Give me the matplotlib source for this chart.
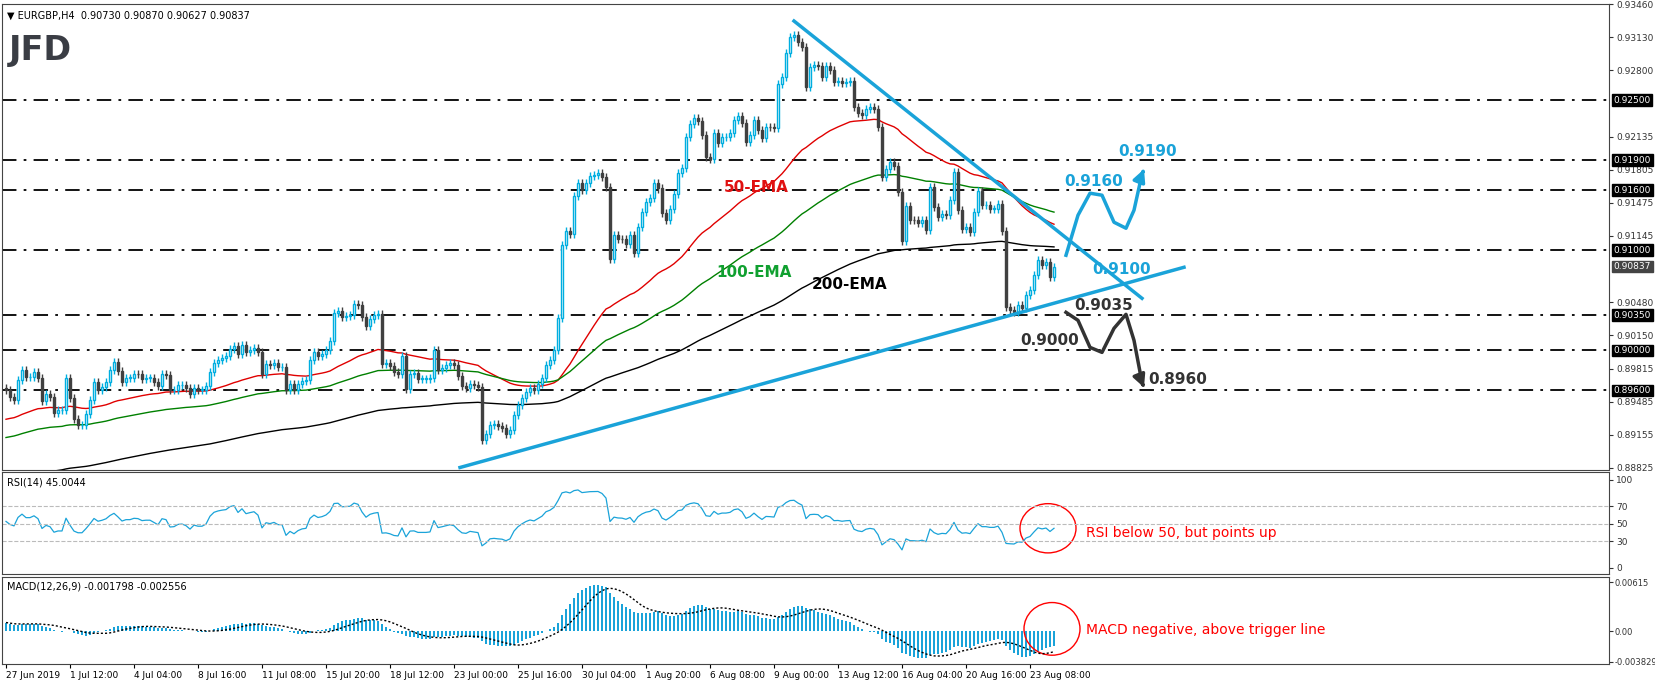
import numpy as np
import pandas as pd
import matplotlib
matplotlib.use('Agg')
import matplotlib.pyplot as plt
from matplotlib.patches import Rectangle, Ellipse
import matplotlib.transforms as mtrans

# closes per H4 bar (open = previous close)
closes = [
    0.8960, 0.89533, 0.8950, 0.89707, 0.89807, 0.89733, 0.89733, 0.89783, 0.89727, 0.89493,
    0.89567, 0.89533, 0.89373, 0.8940, 0.8940, 0.89727, 0.89527, 0.89317, 0.8925, 0.8925,
    0.8936, 0.8950, 0.89683, 0.8960, 0.89633, 0.89683, 0.8980, 0.89883, 0.89793, 0.89683,
    0.89727, 0.89727, 0.89767, 0.8976, 0.89717, 0.89727, 0.89727, 0.89683, 0.8964, 0.89767,
    0.8975, 0.8960, 0.89607, 0.8965, 0.89657, 0.89627, 0.8956, 0.89627, 0.89607, 0.89607,
    0.8964, 0.89783, 0.89873, 0.89907, 0.89927, 0.8994, 0.90017, 0.90043, 0.8996, 0.9005,
    0.89983, 0.90007, 0.90027, 0.89983, 0.89767, 0.89867, 0.8985, 0.89873, 0.89833, 0.89833,
    0.8960, 0.89667, 0.89607, 0.8966, 0.8969, 0.8970, 0.8990, 0.89983, 0.8994, 0.8996,
    0.9000, 0.90093, 0.90377, 0.9039, 0.90333, 0.90343, 0.9035, 0.90467, 0.9045, 0.90333,
    0.9024, 0.90317, 0.9035, 0.90367, 0.89867, 0.89873, 0.8984, 0.89783, 0.89767, 0.8994,
    0.89617, 0.89767, 0.89773, 0.89717, 0.89717, 0.89717, 0.89727, 0.90007, 0.8980, 0.89823,
    0.8985, 0.89877, 0.8985, 0.8974, 0.89643, 0.89627, 0.89667, 0.8965, 0.89633, 0.8910,
    0.8916, 0.8925, 0.8926, 0.8924, 0.89227, 0.89167, 0.8920, 0.8935, 0.8945, 0.8952,
    0.8958, 0.8962, 0.8960, 0.8966, 0.8972, 0.8985, 0.8990, 0.9000, 0.9032, 0.9105,
    0.91193, 0.91167, 0.9154, 0.91667, 0.9160, 0.91667, 0.9174, 0.91747, 0.91767, 0.91727,
    0.91633, 0.90917, 0.9115, 0.91117, 0.9111, 0.91067, 0.9115, 0.90973, 0.91233, 0.91383,
    0.91483, 0.91527, 0.91667, 0.91617, 0.91373, 0.9130, 0.91417, 0.9156, 0.91773, 0.91817,
    0.92127, 0.92257, 0.92317, 0.92293, 0.9215, 0.91927, 0.91907, 0.92167, 0.92073, 0.92133,
    0.92133, 0.92167, 0.9230, 0.9234, 0.92267, 0.92083, 0.9215, 0.9230, 0.9220, 0.92117,
    0.92233, 0.92227, 0.92217, 0.9266, 0.92733, 0.92967, 0.93127, 0.9315, 0.93083, 0.93033,
    0.92633, 0.92833, 0.9285, 0.9284, 0.92727, 0.9284, 0.9280, 0.92683, 0.9269, 0.92667,
    0.92683, 0.9269, 0.92433, 0.92373, 0.9235, 0.92407, 0.92427, 0.92407, 0.92233, 0.91733,
    0.91807, 0.91883, 0.9184, 0.91583, 0.91093, 0.9144, 0.91307, 0.913, 0.91273, 0.913,
    0.91207, 0.91633, 0.91433, 0.91333, 0.91367, 0.9135, 0.9150, 0.91783, 0.9140, 0.91217,
    0.91233, 0.91183, 0.91383, 0.91593, 0.9145, 0.9145, 0.91417, 0.91417, 0.9146, 0.91193,
    0.90433, 0.9040, 0.9038, 0.9045, 0.9042, 0.9055, 0.9060, 0.9075, 0.9090, 0.9085,
    0.9088, 0.9073, 0.90837,
]
first_open = 0.8962
wick = 0.0004

# indicator state just before the first visible bar
ema_seeds = {50: 0.8930, 100: 0.8912, 200: 0.8868}
ema_colors = {50: '#e00000', 100: '#008000', 200: '#000000'}
rsi_seed_gain, rsi_seed_loss = 0.00042, 0.00036
macd_seed_fast, macd_seed_slow = 0.8962, 0.8950

levels = [0.9250, 0.9190, 0.9160, 0.9100, 0.9035, 0.9000, 0.8960]
right_ticks = [0.93460, 0.93130, 0.92800, 0.92135, 0.91805, 0.91475, 0.91145,
               0.90480, 0.90150, 0.89815, 0.89485, 0.89155, 0.88825]
date_labels = ['27 Jun 2019', '1 Jul 12:00', '4 Jul 04:00', '8 Jul 16:00', '11 Jul 08:00',
               '15 Jul 20:00', '18 Jul 12:00', '23 Jul 00:00', '25 Jul 16:00', '30 Jul 04:00',
               '1 Aug 20:00', '6 Aug 08:00', '9 Aug 00:00', '13 Aug 12:00', '16 Aug 04:00',
               '20 Aug 16:00', '23 Aug 08:00']

# trendlines and scenario paths (bar index, price)
down_line = ([197, 284], [0.9329, 0.9052])
up_line = ([113.5, 294.5], [0.8883, 0.9083])
bull_path = ([265, 268, 271, 274, 277, 280, 282, 284], [0.9095, 0.9135, 0.9157, 0.9155, 0.9128, 0.9122, 0.9140, 0.9176])
bear_path = ([265, 268, 271, 274, 277, 280, 282, 284], [0.9038, 0.9030, 0.9003, 0.8998, 0.9022, 0.9036, 0.9010, 0.8968])

# annotation labels: (bar index, price, text, colour)
price_notes = [(272, 0.9169, '0.9160', '#1aa3d9'), (285.5, 0.9199, '0.9190', '#1aa3d9'),
               (279, 0.9081, '0.9100', '#1aa3d9'), (274.5, 0.9045, '0.9035', '#333333'),
               (261, 0.9010, '0.9000', '#333333'), (293, 0.8971, '0.8960', '#333333')]
ema_notes = [(187.5, 0.9163, '50-EMA', '#e01010'), (187, 0.9078, '100-EMA', '#10a030'),
             (211, 0.9066, '200-EMA', 'black')]

c = np.array(closes)
o = np.concatenate([[first_open], c[:-1]])
n = len(c)
x = np.arange(n)


def ema(vals, span, seed, alpha=None):
    a = alpha if alpha else 2 / (span + 1)
    out = []
    e = seed
    for v in vals:
        e = e + a * (v - e)
        out.append(e)
    return np.array(out)


# RSI(14), Wilder smoothing
d = np.diff(np.concatenate([[first_open], c]))
up = ema(np.clip(d, 0, None), 14, rsi_seed_gain, alpha=1 / 14)
dn = ema(np.clip(-d, 0, None), 14, rsi_seed_loss, alpha=1 / 14)
rsi = 100 - 100 / (1 + up / dn)

macd = ema(c, 12, macd_seed_fast) - ema(c, 26, macd_seed_slow)
signal = pd.Series(macd).rolling(9, min_periods=1).mean().values

W, H = 1655, 682
fig = plt.figure(figsize=(W / 100, H / 100), dpi=100)
plt.rcParams['font.family'] = 'DejaVu Sans'


def axbox(top, bot):
    return [2 / W, 1 - bot / H, 1607 / W, (bot - top) / H]


ax = fig.add_axes(axbox(4, 470))
ax_r = fig.add_axes(axbox(472, 574), sharex=ax)
ax_m = fig.add_axes(axbox(577, 664), sharex=ax)

up_col = '#00aee0'
dn_col = '#404040'
for i in range(n):
    hi = max(o[i], c[i]) + wick
    lo = min(o[i], c[i]) - wick
    col = up_col if c[i] >= o[i] else dn_col
    ax.vlines(i, lo, hi, color=col, lw=1, zorder=3)
    b = min(o[i], c[i])
    h = max(abs(c[i] - o[i]), 0.00003)
    ax.add_patch(Rectangle((i - 0.32, b), 0.64, h, facecolor='white' if c[i] >= o[i] else dn_col,
                           edgecolor=col, lw=1, zorder=4))

for span, seed in ema_seeds.items():
    ax.plot(x, ema(c, span, seed), color=ema_colors[span], lw=1, zorder=2)

for lv in levels:
    ax.axhline(lv, color='black', lw=1.3, ls=(0, (8, 4, 1.5, 4)), zorder=1)

ax.plot(*down_line, color='#1aa3d9', lw=2.5, zorder=5)
ax.plot(*up_line, color='#1aa3d9', lw=2.5, zorder=5)
ax.plot(*bull_path, color='#1aa3d9', lw=2.5, zorder=5)
ax.annotate('', xy=(bull_path[0][-1] + 0.5, bull_path[1][-1] + 0.0005), xytext=(bull_path[0][-1], bull_path[1][-1]),
            arrowprops=dict(arrowstyle='-|>', color='#1aa3d9', lw=2.5, mutation_scale=18))
ax.plot(*bear_path, color='#333333', lw=2.5, zorder=5)
ax.annotate('', xy=(bear_path[0][-1] + 0.5, bear_path[1][-1] - 0.0005), xytext=(bear_path[0][-1], bear_path[1][-1]),
            arrowprops=dict(arrowstyle='-|>', color='#333333', lw=2.5, mutation_scale=18))

for bx, py, txt, col in price_notes + ema_notes:
    ax.text(bx, py, txt, color=col, fontsize=11, fontweight='bold', ha='center', va='center', zorder=6)

ax.set_ylim(0.88805, 0.9346)
ax.set_xlim(-1, 400.75)

# right price axis with level boxes
for a in (ax, ax_r, ax_m):
    a.yaxis.tick_right()
    a.tick_params(axis='y', labelsize=6.5, length=3, colors='#333333', pad=2)
    a.tick_params(axis='x', which='both', bottom=False, labelbottom=False)
    for s in a.spines.values():
        s.set_color('#444444')
ax.set_yticks(right_ticks)
ax.set_yticklabels([f'{t:.5f}' for t in right_ticks])
tr = mtrans.blended_transform_factory(ax.transAxes, ax.transData)
for lv in levels:
    ax.text(1.003, lv, f'{lv:.5f}', transform=tr, fontsize=6.5, color='white', va='center',
            bbox=dict(boxstyle='square,pad=0.15', fc='black', ec='black'))
ax.text(1.003, c[-1], f'{c[-1]:.5f}', transform=tr, fontsize=6.5, color='white', va='center',
        bbox=dict(boxstyle='square,pad=0.15', fc='#444444', ec='#444444'))

ax.text(0.003, 0.985, '\u25bc EURGBP,H4  0.90730 0.90870 0.90627 0.90837', transform=ax.transAxes,
        fontsize=7, va='top')
ax.text(0.004, 0.90, 'JFD', transform=ax.transAxes, fontsize=24, fontweight='bold', color='#3a3d44',
        va='center')

# RSI panel
ax_r.plot(x, rsi, color='#1aa3d9', lw=0.9)
for lv in (30, 50, 70):
    ax_r.axhline(lv, color='#bbbbbb', lw=0.8, ls='--')
ax_r.set_ylim(-7, 109)
ax_r.set_yticks([0, 30, 50, 70, 100])
ax_r.text(0.003, 0.95, f'RSI(14) {rsi[-1]:.4f}', transform=ax_r.transAxes, fontsize=7, va='top')
ax_r.add_patch(Ellipse((260.5, 45), 14, 56, fill=False, color='red', lw=1))
ax_r.text(270, 40, 'RSI below 50, but points up', color='red', fontsize=10, va='center')

# MACD panel
ax_m.bar(x, macd, width=0.35, color='#1aa3d9')
ax_m.plot(x, signal, color='black', lw=1, ls=(0, (1.5, 1.5)))
ax_m.set_ylim(-0.0041, 0.0068)
ax_m.set_yticks([0.00615, 0.0, -0.003829])
ax_m.set_yticklabels(['0.00615', '0.00', '-0.003829'])
ax_m.tick_params(axis='y', labelsize=6, pad=1)
ax_m.text(0.003, 0.95, f'MACD(12,26,9) {macd[-1]:.6f} {signal[-1]:.6f}', transform=ax_m.transAxes,
          fontsize=7, va='top')
ax_m.add_patch(Ellipse((261.5, 0.0003), 14, 0.0066, fill=False, color='red', lw=1))
ax_m.text(270, 0.0002, 'MACD negative, above trigger line', color='red', fontsize=10, va='center')

ax_m.tick_params(axis='x', bottom=True, labelbottom=True, labelsize=6.5, length=3, pad=2)
ax_m.set_xticks(np.arange(len(date_labels)) * 16)
ax_m.set_xticklabels(date_labels, ha='left')

fig.savefig('out.png', dpi=100)
